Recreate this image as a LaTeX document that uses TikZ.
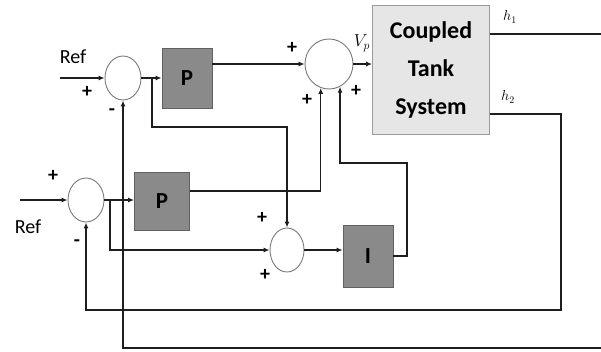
\documentclass[tikz,border=0pt]{standalone}
\usepackage{fontspec}
\setmainfont{Carlito}
\usepackage{xcolor}
\usetikzlibrary{arrows.meta, shapes.geometric}
\definecolor{gainFill}{HTML}{8A8A8A}
\definecolor{plantFill}{HTML}{E6E6E6}
\definecolor{plantEdge}{HTML}{9A9A9A}
\definecolor{sumEdge}{HTML}{7A7A7A}
\definecolor{wireColor}{HTML}{1E1E1E}

\begin{document}
\begin{tikzpicture}[
        x=1pt, y=-1pt,
        wire/.style={draw=wireColor, line width=1.4pt},
        sig/.style={wire, -{Latex[length=6pt,width=5pt]}},
        sumNode/.style={ellipse, draw=sumEdge, fill=white, line width=0.9pt, inner sep=0pt},
        gainBox/.style={draw=wireColor!70, fill=gainFill, line width=0.8pt, font=\fontsize{23}{23}\selectfont\bfseries, inner sep=0pt},
        plantBox/.style={draw=plantEdge, fill=plantFill, line width=0.8pt, font=\fontsize{24}{38}\selectfont\bfseries, align=center, inner sep=0pt},
        signLbl/.style={font=\fontsize{20}{20}\selectfont\bfseries, inner sep=0pt},
        refLbl/.style={font=\fontsize{20}{20}\selectfont, inner sep=0pt}
    ]
        \useasboundingbox (0,0) rectangle (601,351);
        \clip (0,0) rectangle (601,351);

        % Summing junctions
        \node[sumNode, minimum width=36pt, minimum height=44pt, at={(123,78)}] (s1) {};
        \node[sumNode, minimum width=48pt, minimum height=50pt, at={(329,64)}] (s2) {};
        \node[sumNode, minimum width=34pt, minimum height=44pt, at={(287,250)}] (s3) {};
        \node[sumNode, minimum width=36pt, minimum height=44pt, at={(86,200)}] (s4) {};

        % Blocks
        \node[gainBox, minimum width=50pt, minimum height=60pt, at={(187,78)}] (p1) {P};
        \node[gainBox, minimum width=55pt, minimum height=58pt, at={(162,201)}] (p2) {P};
        \node[gainBox, minimum width=50pt, minimum height=62pt, at={(368,256)}] (int) {I};
        \node[plantBox, minimum width=117pt, minimum height=129pt, at={(431,70)}] (tank) {Coupled\\Tank\\System};

        % Inputs and branch points
        \coordinate (ref1) at (60,78);
        \coordinate (ref2) at (20,200);
        \coordinate (b1) at (152,78);
        \coordinate (b2) at (110,200);

        % Forward paths
        \draw[sig] (ref1) -- (s1.west);
        \draw[sig] (s1.east) -- (p1.west);
        \draw[sig] (b1) -- ++(0,49) -| (s3.north);
        \draw[sig] (p1.east |- s2) -- (s2.west);
        \draw[sig] (s2.east) -- (s2.east -| tank.west);
        \draw[sig] (ref2) -- (s4.west);
        \draw[sig] (s4.east) -- (s4.east -| p2.west);
        \draw[sig] (b2) |- (s3.west);
        \draw[sig] (s3.east) -- (s3.east -| int.west);
        \draw[sig] (p2.east |- 0,191) -| (s2.-109);
        \draw[sig] (int.east) -| (407,163) -| (s2.-64);

        % Feedback from h1 and h2
        \draw[sig] (tank.east |- 0,34) -| (606,348) -| (s1.south);
        \draw[sig] (tank.east |- 0,114) -| (561,310) -| (s4.south);

        % Labels
        \node[refLbl, at={(73,57)}] (lref1) {Ref};
        \node[refLbl, at={(28,227)}] (lref2) {Ref};
        \node[at={(362,43)}, font=\fontsize{18}{18}\selectfont, inner sep=0pt] (lvp) {$V_p$};
        \node[at={(510,17)}, font=\fontsize{14}{14}\selectfont] (lh1) {$h_1$};
        \node[at={(508,97)}, font=\fontsize{14}{14}\selectfont] (lh2) {$h_2$};

        % Signs
        \node[signLbl, at={(87,92)}] (g1) {+};
        \node[signLbl, at={(112,112)}] (g2) {-};
        \node[signLbl, at={(292,48)}] (g3) {+};
        \node[signLbl, at={(307,100)}] (g4) {+};
        \node[signLbl, at={(356,91)}] (g5) {+};
        \node[signLbl, at={(262,218)}] (g6) {+};
        \node[signLbl, at={(265,275)}] (g7) {+};
        \node[signLbl, at={(53,176)}] (g8) {+};
        \node[signLbl, at={(77,243)}] (g9) {-};
    \end{tikzpicture}
\end{document}
